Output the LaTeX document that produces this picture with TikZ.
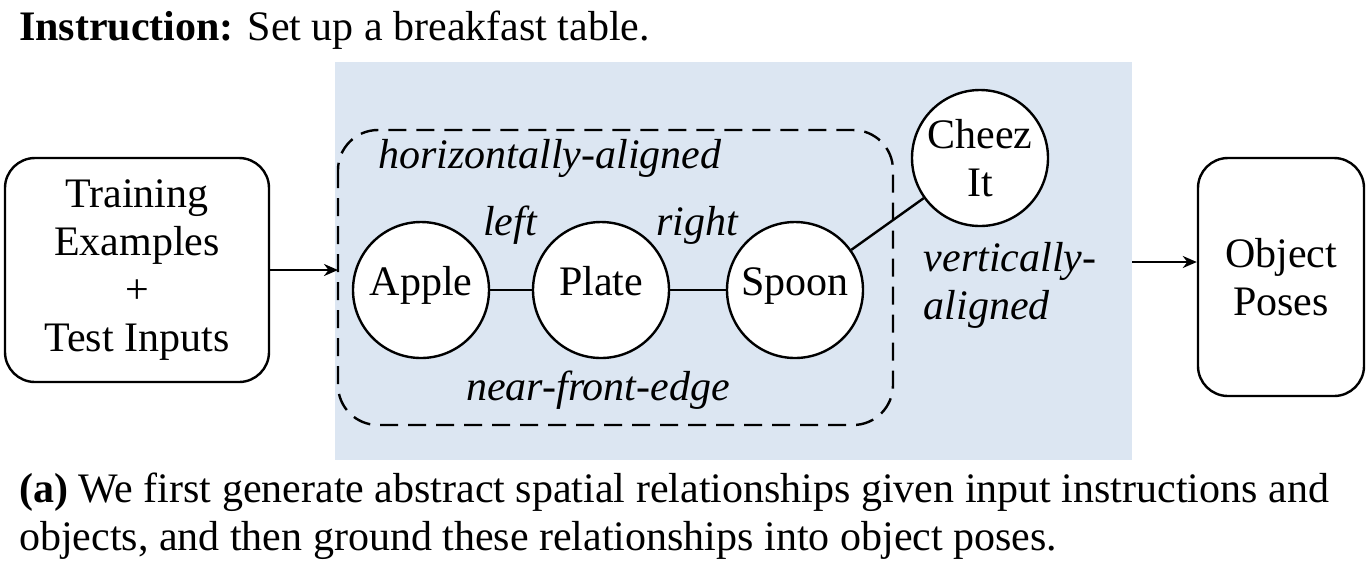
\documentclass[tikz,border=0pt]{standalone}
\usepackage{fontspec}
\setmainfont{Liberation Serif}
\usetikzlibrary{arrows.meta}
\definecolor{panelblue}{HTML}{DCE6F2}
\newcommand{\bigtext}{\fontsize{21}{24}\selectfont}
\tikzset{
    obj/.style = {draw, very thick, circle, fill=white, minimum size=68pt, inner sep=0pt, align=center},
    io/.style = {draw, very thick, rounded corners=15pt, align=center},
    rel/.style = {font=\bigtext\itshape}
}
\begin{document}
\begin{tikzpicture}[x=0.5pt, y=-0.5pt, font=\bigtext, >={Stealth[length=7pt,width=6pt]}]
    \useasboundingbox (0,0) rectangle (1372,570);
    \fill[panelblue] (335,62) rectangle (1132,460);
    \node[anchor=west] (instr) at (12,30) {\textbf{Instruction:} Set up a breakfast table.};
    \draw[very thick, dash pattern=on 9pt off 5pt, rounded corners=20pt] (338,130) rectangle (893,425);
    \coordinate (groupin) at (338,270);
    \coordinate (panelout) at (1132,262);
    \node[io, minimum width=132pt, minimum height=112pt] (train) at (137,270) {Training\\Examples\\+\\Test Inputs};
    \node[io, minimum width=83pt, minimum height=119pt] (poses) at (1281,277) {Object\\Poses};
    \node[obj, text height=1.6ex, text depth=0.5ex] (apple) at (421,290) {Apple};
    \node[obj, text height=1.6ex, text depth=0.5ex] (plate) at (601,290) {Plate};
    \node[obj, text height=1.6ex, text depth=0.5ex] (spoon) at (795,290) {Spoon};
    \node[obj] (cheez) at (980,158) {Cheez\\It};
    \draw[very thick] (apple) -- (plate);
    \draw[very thick] (plate) -- (spoon);
    \draw[very thick] (spoon) -- (cheez);
    \draw[very thick, ->] (train.east |- groupin) -- (groupin);
    \draw[very thick, ->] (panelout) -- (poses.west |- panelout);
    \node[rel] (leftlbl) at (510,225) {left};
    \node[rel] (rightlbl) at (697,225) {right};
    \node[rel] (horiz) at (550,158) {horizontally-aligned};
    \node[rel, align=left] (vert) at (1010,285) {vertically-\\aligned};
    \node[rel] (front) at (598,390) {near-front-edge};
    \node[anchor=west, align=left] (caption) at (12,516) {\textbf{(a)} We first generate abstract spatial relationships given input instructions and\\objects, and then ground these relationships into object poses.};
\end{tikzpicture}
\end{document}
